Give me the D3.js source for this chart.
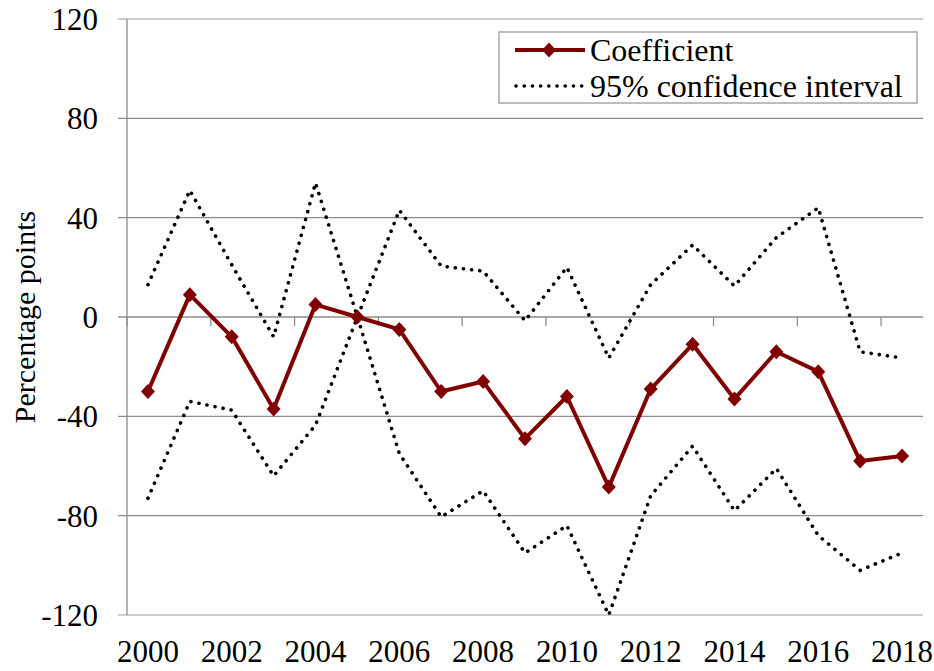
<!DOCTYPE html>
<html lang="en">
<head>
<meta charset="UTF-8">
<title>Coefficient with 95% confidence interval</title>
<script src="https://cdn.jsdelivr.net/npm/d3@7"></script>
<style>
  body { margin: 0; background: #fff; }
  svg { display: block; }
  svg text { font-family: "Liberation Serif", "Times New Roman", serif; fill: #000; }
  .grid line { stroke: #8c8c8c; stroke-width: 1.3; }
</style>
</head>
<body>
<script>
// data
const years = [2000, 2001, 2002, 2003, 2004, 2005, 2006, 2007, 2008, 2009,
               2010, 2011, 2012, 2013, 2014, 2015, 2016, 2017, 2018];
const coefficient = [-30, 9, -8, -37, 5, 0, -5, -30, -26, -49,
                     -32, -68.5, -29, -11, -33, -14, -22, -58, -56];
const upperCI = [13, 51, 21, -8, 54, 0, 43, 20.5, 18.5, -1.5,
                 20, -16.5, 13, 29, 12.5, 32, 44, -14, -16.5];
const lowerCI = [-73, -34, -37.5, -64, -43.5, 0, -55, -80.5, -70, -95,
                 -84, -120, -72, -52, -78, -61, -88, -102, -95];
const yTicks = [-120, -80, -40, 0, 40, 80, 120];
const xLabelYears = [2000, 2002, 2004, 2006, 2008, 2010, 2012, 2014, 2016, 2018];

const W = 934, H = 671;
const m = {left: 127, right: 11, top: 19, bottom: 56};
const FS = 31;

const svg = d3.select("body").append("svg")
  .attr("width", W).attr("height", H);

const x = d3.scaleBand().domain(years).range([m.left, W - m.right]);
const y = d3.scaleLinear().domain([-120, 120]).range([H - m.bottom, m.top]);
const cx = d => x(d) + x.bandwidth() / 2;

// horizontal gridlines
svg.append("g").attr("class", "grid")
  .selectAll("line").data(yTicks).enter().append("line")
  .attr("x1", m.left - 9).attr("x2", W - m.right)
  .attr("y1", d => y(d)).attr("y2", d => y(d))
  .style("stroke", d => (d === 120 || d === -120) ? "#bdbdbd" : null);

// left axis line
svg.append("line")
  .attr("x1", m.left).attr("x2", m.left)
  .attr("y1", y(120)).attr("y2", y(-120))
  .attr("stroke", "#8c8c8c").attr("stroke-width", 1.3);

// y tick labels
svg.append("g").selectAll("text").data(yTicks).enter().append("text")
  .attr("x", m.left - 29).attr("y", d => y(d))
  .attr("dy", "0.35em").attr("text-anchor", "end")
  .attr("font-size", FS).text(d => d);

// category axis crossing at zero, ticks every 2 categories
const tickIdx = d3.range(0, years.length, 2);
svg.append("g").selectAll("line").data(tickIdx).enter().append("line")
  .attr("x1", i => x(years[i])).attr("x2", i => x(years[i]))
  .attr("y1", y(0)).attr("y2", y(0) + 9)
  .attr("stroke", "#8c8c8c").attr("stroke-width", 1.3);

// x labels at bottom
svg.append("g").selectAll("text").data(xLabelYears).enter().append("text")
  .attr("x", d => cx(d)).attr("y", H - m.bottom + 47)
  .attr("text-anchor", "middle").attr("font-size", FS).text(d => d);

// y axis title
svg.append("text")
  .attr("transform", `translate(35, ${y(0)}) rotate(-90)`)
  .attr("text-anchor", "middle").attr("font-size", 30)
  .text("Percentage points");

const line = d3.line().x((d, i) => cx(years[i])).y(d => y(d));

// confidence interval (dotted)
const dots = "0.1 8.1";
[upperCI, lowerCI].forEach(s => {
  svg.append("path").datum(s)
    .attr("d", line).attr("fill", "none")
    .attr("stroke", "#000").attr("stroke-width", 3.6)
    .attr("stroke-linecap", "round")
    .attr("stroke-dasharray", dots);
});

// coefficient line + diamonds
const red = "#800000";
svg.append("path").datum(coefficient)
  .attr("d", line).attr("fill", "none")
  .attr("stroke", red).attr("stroke-width", 4)
  .attr("stroke-linejoin", "round");

const diamond = "M0,-7.5L7,0L0,7.5L-7,0Z";
svg.append("g").selectAll("path").data(coefficient).enter().append("path")
  .attr("d", diamond)
  .attr("transform", (d, i) => `translate(${cx(years[i])},${y(d)})`)
  .attr("fill", red);

// legend
const lg = svg.append("g").attr("transform", "translate(499,32)");
lg.append("rect").attr("width", 418).attr("height", 71)
  .attr("fill", "#fff").attr("stroke", "#9a9a9a").attr("stroke-width", 1.3);
lg.append("line").attr("x1", 16).attr("x2", 86).attr("y1", 18).attr("y2", 18)
  .attr("stroke", red).attr("stroke-width", 4);
lg.append("path").attr("d", diamond).attr("transform", "translate(50,18)").attr("fill", red);
lg.append("text").attr("x", 91).attr("y", 18).attr("dy", "0.35em")
  .attr("font-size", 32).text("Coefficient");
lg.append("line").attr("x1", 17).attr("x2", 86).attr("y1", 54).attr("y2", 54)
  .attr("stroke", "#000").attr("stroke-width", 3.6)
  .attr("stroke-linecap", "round").attr("stroke-dasharray", dots);
lg.append("text").attr("x", 91).attr("y", 54).attr("dy", "0.35em")
  .attr("font-size", 32).text("95% confidence interval");
</script>
</body>
</html>
